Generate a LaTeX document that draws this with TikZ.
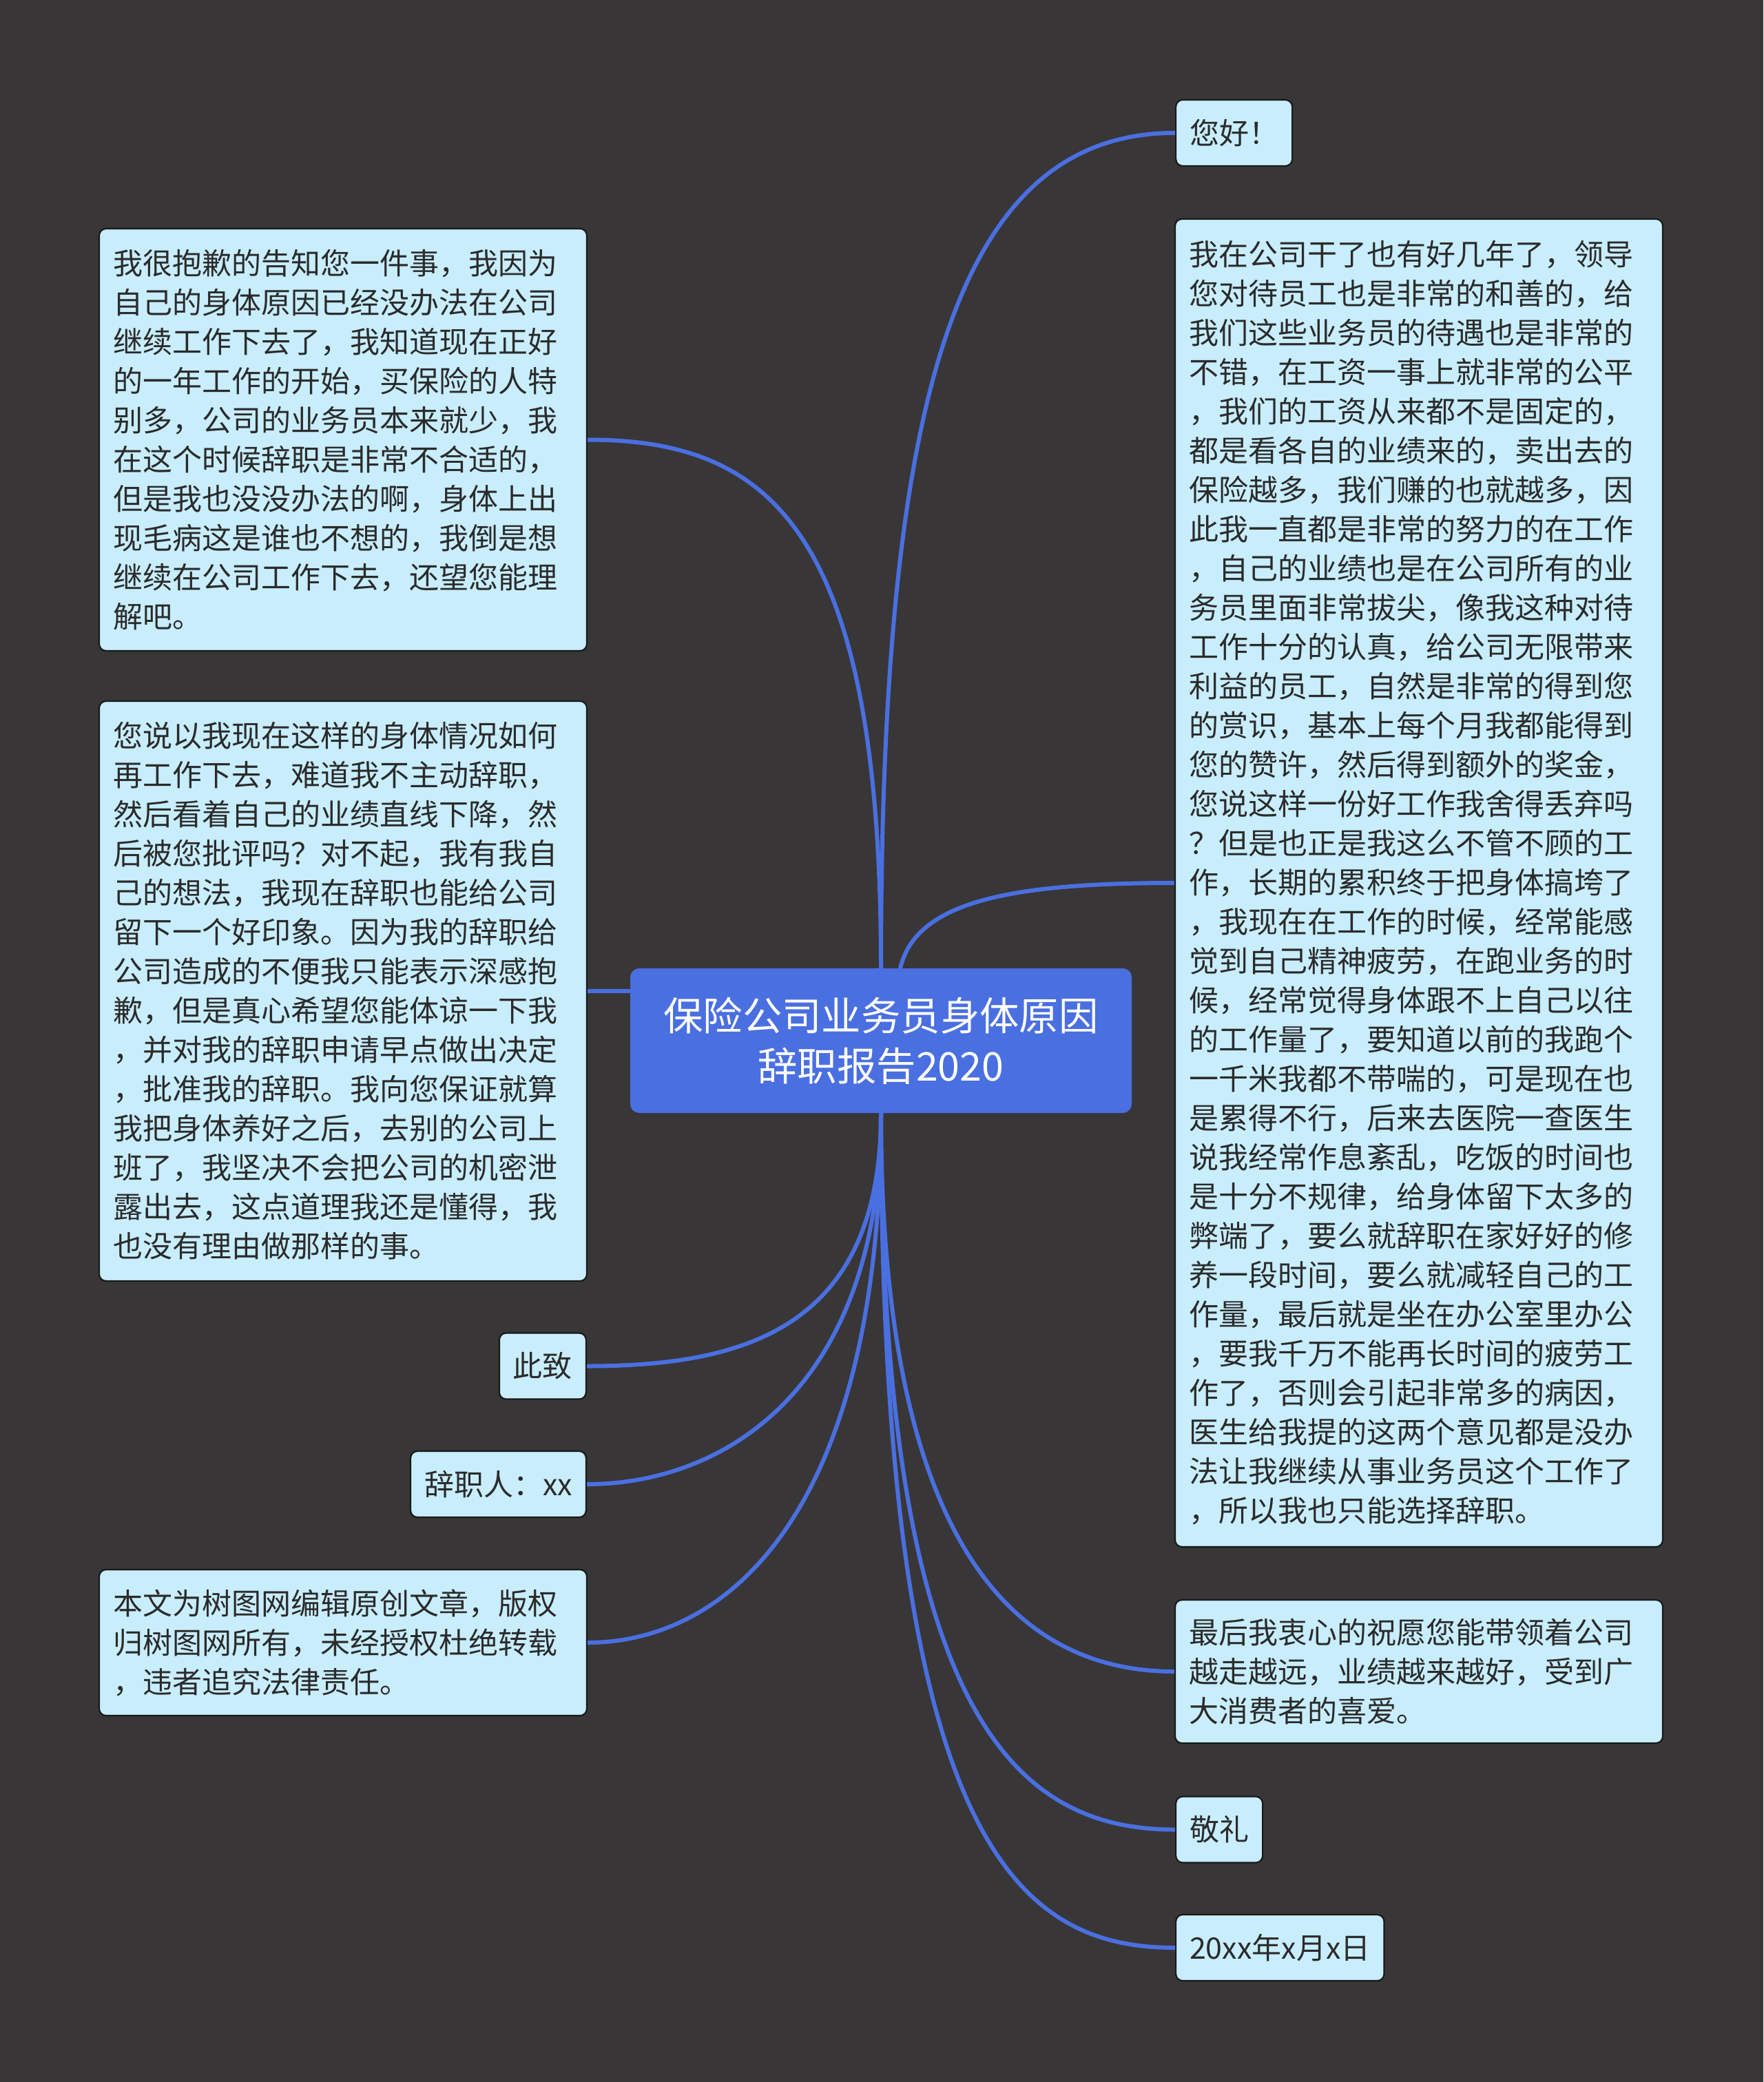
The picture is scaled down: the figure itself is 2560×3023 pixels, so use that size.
\documentclass[tikz,border=0pt]{standalone}
\usepackage{fontspec}
\setmainfont{Noto Sans CJK SC}
\definecolor{bgc}{HTML}{383637}
\definecolor{leaffill}{HTML}{C8EDFC}
\definecolor{rootfill}{HTML}{4A6FE0}
\definecolor{linkc}{HTML}{4A6FE0}
\definecolor{txt}{HTML}{2B2B2B}
\newcommand\leaffont{\fontsize{21.5pt}{28.5pt}\selectfont}
\newcommand\rootfont{\fontsize{28.7pt}{36.6pt}\selectfont}
\begin{document}
\begin{tikzpicture}[x=0.5pt,y=-0.5pt,
  leaf/.style={draw=black!90, line width=1.1pt, fill=leaffill, rounded corners=5pt,
    inner xsep=10pt, inner ysep=0pt, text=txt, font=\leaffont, align=left,
    minimum height=48pt},
  wide/.style={leaf, text width=334pt},
  root/.style={draw=rootfill, line width=1pt, fill=rootfill, rounded corners=6pt,
    text=white, font=\rootfont, align=center, minimum width=363pt,
    minimum height=104pt, inner sep=0pt},
  link/.style={draw=linkc, line width=3pt}]
\fill[bgc] (0,0) rectangle (2560,3023);
\useasboundingbox (0,0) rectangle (2560,3023);

% left side
\node[wide, minimum height=306.5pt] (l1) at (498,638.5) {我很抱歉的告知您一件事，我因为\\
自己的身体原因已经没办法在公司\\
继续工作下去了，我知道现在正好\\
的一年工作的开始，买保险的人特\\
别多，公司的业务员本来就少，我\\
在这个时候辞职是非常不合适的，\\
但是我也没没办法的啊，身体上出\\
现毛病这是谁也不想的，我倒是想\\
继续在公司工作下去，还望您能理\\
解吧。};

\node[wide, minimum height=421pt] (l2) at (498,1439) {您说以我现在这样的身体情况如何\\
再工作下去，难道我不主动辞职，\\
然后看着自己的业绩直线下降，然\\
后被您批评吗？对不起，我有我自\\
己的想法，我现在辞职也能给公司\\
留下一个好印象。因为我的辞职给\\
公司造成的不便我只能表示深感抱\\
歉，但是真心希望您能体谅一下我\\
，并对我的辞职申请早点做出决定\\
，批准我的辞职。我向您保证就算\\
我把身体养好之后，去别的公司上\\
班了，我坚决不会把公司的机密泄\\
露出去，这点道理我还是懂得，我\\
也没有理由做那样的事。};

\node[leaf, anchor=east] (l3) at (852,1983.5) {此致};
\node[leaf, anchor=east] (l4) at (852,2155) {辞职人：xx};

\node[wide, minimum height=106pt] (l5) at (498,2385) {本文为树图网编辑原创文章，版权\\
归树图网所有，未经授权杜绝转载\\
，违者追究法律责任。};

% right side
\node[leaf, anchor=west] (r1) at (1706,193) {您好！};

\node[wide, minimum height=964pt] (r2) at (2060,1282) {我在公司干了也有好几年了，领导\\
您对待员工也是非常的和善的，给\\
我们这些业务员的待遇也是非常的\\
不错，在工资一事上就非常的公平\\
，我们的工资从来都不是固定的，\\
都是看各自的业绩来的，卖出去的\\
保险越多，我们赚的也就越多，因\\
此我一直都是非常的努力的在工作\\
，自己的业绩也是在公司所有的业\\
务员里面非常拔尖，像我这种对待\\
工作十分的认真，给公司无限带来\\
利益的员工，自然是非常的得到您\\
的赏识，基本上每个月我都能得到\\
您的赞许，然后得到额外的奖金，\\
您说这样一份好工作我舍得丢弃吗\\
？但是也正是我这么不管不顾的工\\
作，长期的累积终于把身体搞垮了\\
，我现在在工作的时候，经常能感\\
觉到自己精神疲劳，在跑业务的时\\
候，经常觉得身体跟不上自己以往\\
的工作量了，要知道以前的我跑个\\
一千米我都不带喘的，可是现在也\\
是累得不行，后来去医院一查医生\\
说我经常作息紊乱，吃饭的时间也\\
是十分不规律，给身体留下太多的\\
弊端了，要么就辞职在家好好的修\\
养一段时间，要么就减轻自己的工\\
作量，最后就是坐在办公室里办公\\
，要我千万不能再长时间的疲劳工\\
作了，否则会引起非常多的病因，\\
医生给我提的这两个意见都是没办\\
法让我继续从事业务员这个工作了\\
，所以我也只能选择辞职。};

\node[wide, minimum height=104pt] (r3) at (2060,2427) {最后我衷心的祝愿您能带领着公司\\
越走越远，业绩越来越好，受到广\\
大消费者的喜爱。};

\node[leaf, anchor=west] (r4) at (1706,2656.5) {敬礼};
\node[leaf, anchor=west] (r5) at (1706,2828) {20xx年x月x日};

\node[root] (root) at (1279,1511) {保险公司业务员身体原因\\辞职报告2020};

% connectors
\draw[link] (root.north) .. controls +(0,-830) and +(-318,0) .. (r1.west);
\draw[link] (root.north) .. controls +(0,-636) and +(266,0) .. (l1.east);
\draw[link] ([xshift=14pt]root.north) .. controls +(22,-96) and +(-241,0) .. (r2.west);
\draw[link] (l2.east) -- (l2.east -| root.west);
\draw[link] (root.south) .. controls +(0,313) and +(228,0) .. (l3.east);
\draw[link] (root.south) .. controls +(0,400) and +(200,0) .. (l4.east);
\draw[link] (root.south) .. controls +(0,585) and +(200,0) .. (l5.east);
\draw[link] (root.south) .. controls +(0,635) and +(-226,0) .. (r3.west);
\draw[link] (root.south) .. controls +(0,885) and +(-226,0) .. (r4.west);
\draw[link] (root.south) .. controls +(0,1065) and +(-226,0) .. (r5.west);
\end{tikzpicture}
\end{document}
